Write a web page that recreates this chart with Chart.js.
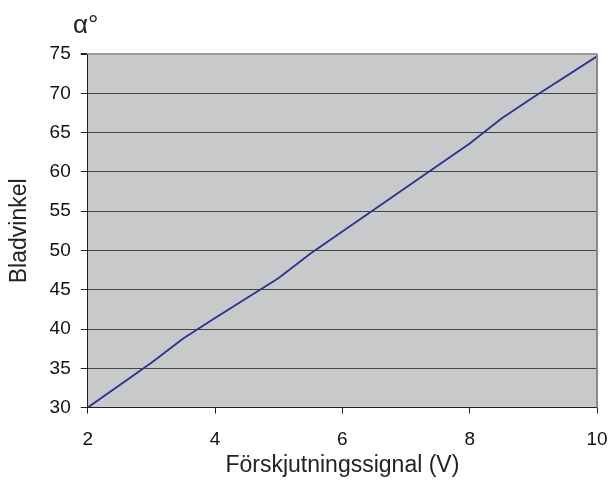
<!DOCTYPE html>
<html lang="sv">
<head>
<meta charset="UTF-8">
<title>Bladvinkel</title>
<script src="https://cdn.jsdelivr.net/npm/chart.js"></script>
<style>
    html, body { margin: 0; padding: 0; background: #fff; }
    .wrap { width: 610px; height: 483px; position: relative; }
</style>
</head>
<body>
<div class="wrap"><canvas id="c"></canvas></div>
<script>
    // signal (V) and blade angle (degrees)
    const signal = [2, 3, 3.5, 4, 5, 5.5, 6, 7, 8, 8.5, 9, 10];
    const angle = [30, 35.7, 38.8, 41.4, 46.5, 49.6, 52.4, 58, 63.6, 66.8, 69.5, 74.7];
    const xTicks = [2, 4, 6, 8, 10];
    const yTicks = [30, 35, 40, 45, 50, 55, 60, 65, 70, 75];

    const FONT = 'Liberation Sans, Arial, Helvetica, sans-serif';

    // grey plot background, right border and the alpha label
    const plotDeco = {
        id: 'plotDeco',
        beforeDraw(chart) {
            const { ctx, chartArea: a } = chart;
            ctx.save();
            ctx.fillStyle = '#c8c9cb';
            ctx.fillRect(a.left, a.top, a.right - a.left, a.bottom - a.top);
            ctx.restore();
        },
        afterDraw(chart) {
            const { ctx, chartArea: a } = chart;
            ctx.save();
            ctx.strokeStyle = '#8a8a8a';
            ctx.lineWidth = 2;
            ctx.beginPath();
            ctx.moveTo(a.right, a.top);
            ctx.lineTo(a.right, a.bottom);
            ctx.stroke();
            ctx.fillStyle = '#222';
            ctx.font = '26px ' + FONT;
            ctx.textBaseline = 'alphabetic';
            ctx.fillText('\u03b1\u00b0', 73, 33);
            ctx.restore();
        }
    };

    new Chart(document.getElementById('c'), {
        type: 'line',
        data: {
            datasets: [{
                data: signal.map((x, i) => ({ x: x, y: angle[i] })),
                borderColor: '#2e3192',
                borderWidth: 1.8,
                pointRadius: 0,
                tension: 0,
                fill: false
            }]
        },
        options: {
            responsive: true,
            maintainAspectRatio: false,
            animation: false,
            layout: { padding: { top: 54, right: 13, left: 6, bottom: 4 } },
            plugins: { legend: { display: false }, tooltip: { enabled: false } },
            scales: {
                x: {
                    type: 'linear',
                    min: 2,
                    max: 10,
                    afterBuildTicks: s => { s.ticks = xTicks.map(v => ({ value: v })); },
                    afterFit: s => { s.paddingLeft = 0; s.paddingRight = 0; },
                    grid: { drawOnChartArea: false, drawTicks: true, tickLength: 6, color: '#222', tickColor: '#222' },
                    border: { color: '#222', width: 1 },
                    ticks: { color: '#111', font: { family: FONT, size: 19 }, padding: 15, maxRotation: 0 },
                    title: { display: true, text: 'F\u00f6rskjutningssignal (V)', color: '#222', font: { family: FONT, size: 23 }, padding: { top: -15, bottom: 0 } }
                },
                y: {
                    min: 30,
                    max: 75,
                    afterBuildTicks: s => { s.ticks = yTicks.map(v => ({ value: v })); },
                    grid: {
                        tickLength: 7,
                        color: c => c.tick && c.tick.value === 75 ? '#999' : '#444',
                        lineWidth: c => c.tick && c.tick.value === 75 ? 2 : 1,
                        tickColor: '#222'
                    },
                    border: { color: '#222', width: 1 },
                    ticks: { color: '#111', font: { family: FONT, size: 19 }, padding: 10 },
                    title: { display: true, text: 'Bladvinkel', color: '#222', font: { family: FONT, size: 23 }, padding: { top: 0, bottom: 6 } }
                }
            }
        },
        plugins: [plotDeco]
    });
</script>
</body>
</html>
